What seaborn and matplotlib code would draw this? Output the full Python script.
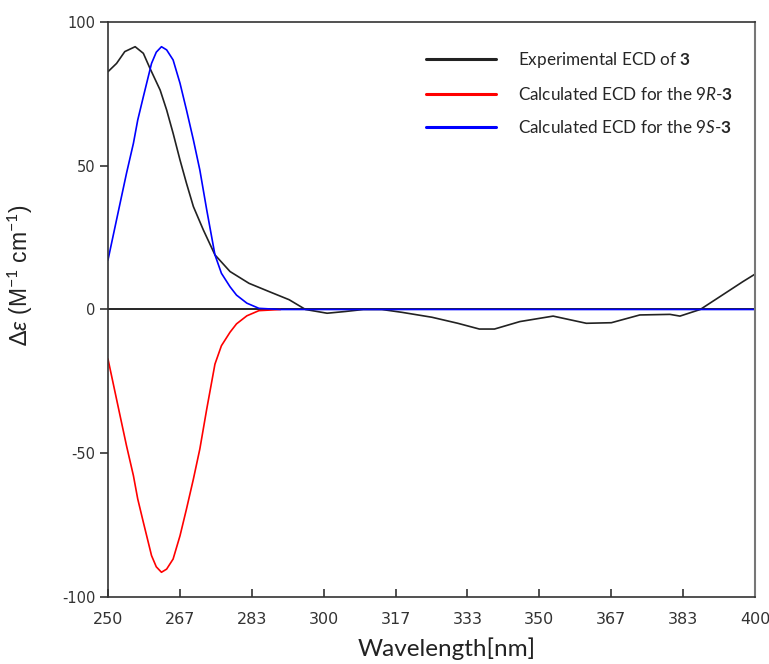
import numpy as np
import pandas as pd
import matplotlib
matplotlib.use("Agg")
import matplotlib.pyplot as plt
import seaborn as sns

# experimental ECD of 3
exp_x = [250, 252, 253.9, 256.3, 258.2, 259.7, 262.1, 263.6, 265.1, 266.7, 268.2,
         269.8, 272.1, 274.8, 278.3, 282.7, 287.4, 292, 295.8, 300.8, 305,
         309.2, 313.5, 318.2, 325.1, 331.1, 336.1, 339.6, 345.5, 353.2, 360.9,
         366.7, 373.3, 380.3, 382.6, 387.3, 391.9, 397.2, 400]
exp_y = [82.7, 85.6, 89.7, 91.4, 89.1, 84, 76.3, 69.4, 61.3, 52, 43.9,
         35.8, 27.7, 19, 13.2, 9.1, 6.2, 3.4, 0, -1.3, -0.7,
         0, 0, -1, -2.7, -4.8, -6.8, -6.8, -4.2, -2.3, -4.8,
         -4.6, -1.9, -1.7, -2.3, 0, 4.5, 9.7, 12.3]

# calculated ECD for 9S-3
s_x = [250, 252.8, 254.3, 255.9, 256.9, 258.2, 260.1, 261.2, 262.4, 263.6, 265.1,
       266.7, 268.2, 269.8, 271.3, 272.9, 274.8, 276.3, 278.3, 279.8, 282.2, 285,
       290, 400]
s_y = [17.2, 36.9, 47.4, 57.8, 65.9, 74, 85.6, 89.5, 91.4, 90.3, 86.8,
       78.7, 69.4, 59, 48.5, 34.6, 19, 12.6, 7.9, 5, 2.2, 0.4,
       0, 0]

# calculated ECD for 9R-3
r_x = [250, 252.8, 254.3, 255.9, 256.9, 258.2, 260.1, 261.2, 262.4, 263.6, 265.1,
       266.7, 268.2, 269.8, 271.3, 272.9, 274.8, 276.3, 278.3, 279.8, 282.2, 285,
       290]
r_y = [-17.2, -36.9, -47.4, -57.8, -65.9, -74, -85.6, -89.5, -91.4, -90.3, -86.8,
       -78.7, -69.4, -59, -48.5, -34.6, -19, -12.6, -7.9, -5, -2.2, -0.4,
       0]

tick_labels = ["250", "267", "283", "300", "317", "333", "350", "367", "383", "400"]

labels = ["Experimental ECD of $\\mathbf{3}$",
          "Calculated ECD for the $\\mathit{9R}$-$\\mathbf{3}$",
          "Calculated ECD for the $\\mathit{9S}$-$\\mathbf{3}$"]

sns.set_theme(style="white")
plt.rcParams["font.family"] = ["Lato", "DejaVu Sans"]
plt.rcParams["mathtext.fontset"] = "custom"
plt.rcParams["mathtext.rm"] = "Lato"
plt.rcParams["mathtext.it"] = "Lato:italic"
plt.rcParams["mathtext.bf"] = "Lato:bold"

df_exp = pd.DataFrame({"x": exp_x, "y": exp_y})
df_r = pd.DataFrame({"x": r_x, "y": r_y})
df_s = pd.DataFrame({"x": s_x, "y": s_y})

fig = plt.figure(figsize=(7.69, 6.64), dpi=100)
ax = fig.add_axes([0.1404, 0.1009, 0.8414, 0.866])

ax.axhline(0, color="black", lw=1.2, zorder=1)
sns.lineplot(data=df_exp, x="x", y="y", ax=ax, color="#222222", lw=1.2, label=labels[0], sort=False)
sns.lineplot(data=df_r, x="x", y="y", ax=ax, color="#ff0000", lw=1.2, label=labels[1], sort=False)
sns.lineplot(data=df_s, x="x", y="y", ax=ax, color="#0000ff", lw=1.2, label=labels[2], sort=False)

ax.set_xlim(250, 400)
ax.set_ylim(-100, 100)
ax.set_xticks(np.linspace(250, 400, len(tick_labels)))
ax.set_xticklabels(tick_labels, family=["Liberation Sans Narrow", "DejaVu Sans"], fontsize=11.5)
ax.set_yticks([-100, -50, 0, 50, 100])
ax.set_yticklabels(["-100", "-50", "0", "50", "100"], family="DejaVu Sans", fontsize=10.5)
ax.tick_params(axis="x", direction="in", length=6, width=1.2, color="#333333", pad=11, labelcolor="#333333")
ax.tick_params(axis="y", direction="out", length=6, width=1.2, color="#333333", pad=3, labelcolor="#333333")
ax.tick_params(bottom=True, left=True)

for side in ["left", "bottom", "top"]:
    ax.spines[side].set_color("#333333")
    ax.spines[side].set_linewidth(1.2)
ax.spines["right"].set_color("#777777")
ax.spines["right"].set_linewidth(1.5)

ax.set_xlabel("Wavelength[nm]", fontsize=17.5, color="#222222")
ax.xaxis.set_label_coords(0.524, -0.07)
ax.set_ylabel("$\\Delta\\mathit{\\varepsilon}$ (M$^{-1}$ cm$^{-1}$)", fontsize=16.5,
              color="#222222", family="Liberation Sans")
ax.yaxis.set_label_coords(-0.113, 0.56)

leg = ax.legend(loc="upper left", bbox_to_anchor=(0.467, 0.978), frameon=False,
                fontsize=12.3, handlelength=4.1, handletextpad=1.3, labelspacing=0.95)
for line in leg.get_lines():
    line.set_linewidth(2.2)

fig.savefig("out.png", dpi=100)
